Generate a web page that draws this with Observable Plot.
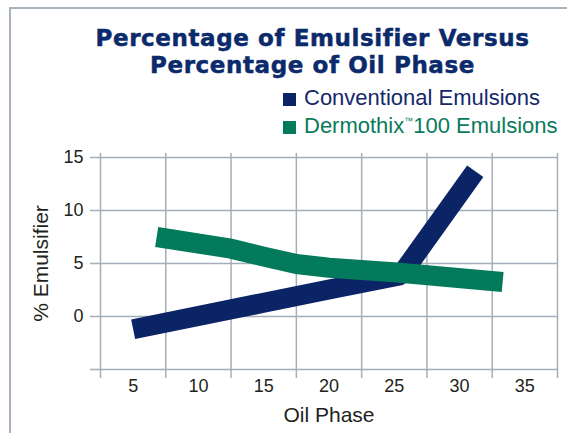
<!DOCTYPE html>
<html>
<head>
<meta charset="utf-8">
<script src="https://cdn.jsdelivr.net/npm/d3@7"></script>
<script src="https://cdn.jsdelivr.net/npm/@observablehq/plot@0.6"></script>
<style>
  html, body { margin: 0; padding: 0; background: #fff; }
  #wrap { position: relative; width: 567px; height: 433px; overflow: hidden; background: #fff; }
  #border { position: absolute; left: 9px; top: 7px; width: 700px; height: 600px;
            border-left: 2px solid #a9b3bd; border-top: 2px solid #a9b3bd; }
  .title { position: absolute; left: 0; width: 625px; text-align: center; white-space: nowrap;
           font-family: "DejaVu Sans", sans-serif; font-weight: bold; font-size: 23px;
           letter-spacing: 0.6px; line-height: 27px; color: #0b2a6b;
           -webkit-text-stroke: 0.5px #0b2a6b; }
  .leg { position: absolute; left: 283px; font-family: "Liberation Sans", Arial, sans-serif;
         font-size: 22px; line-height: 28px; white-space: nowrap; }
  .sw { position: absolute; left: 283px; width: 13px; height: 13px; }
  .leg span.t { position: absolute; left: 21px; top: 0; }
  sup { font-size: 9px; vertical-align: 0; position: relative; top: -9px; }
  #chart { position: absolute; left: 0; top: 140px; }
</style>
</head>
<body>
<div id="wrap">
  <div id="border"></div>
  <div class="title" id="t1"></div>
  <div class="title" id="t2"></div>
  <div class="sw" id="sw1"></div>
  <div class="sw" id="sw2"></div>
  <div class="leg" id="leg1"></div>
  <div class="leg" id="leg2"></div>
  <div id="chart"></div>
</div>
<script>
// ---- data ----
const titleLines = ["Percentage of Emulsifier Versus", "Percentage of Oil Phase"];
const seriesNames = ["Conventional Emulsions", "Dermothix™100 Emulsions"];
const seriesColors = ["#0b2466", "#047a5c"];
const convX = [5, 15, 20, 25.5, 31.2];
const convY = [-1.2, 1.3, 2.55, 3.9, 13.7];
const dermX = [6.8, 12.5, 15, 17.5, 20, 25.2, 33.3];
const dermY = [7.5, 6.4, 5.65, 4.95, 4.6, 4.15, 3.25];
const xTicks = [5, 10, 15, 20, 25, 30, 35];
const yTicks = [0, 5, 10, 15];
const xGrid = [2.5, 7.5, 12.5, 17.5, 22.5, 27.5, 32.5, 37.5];
const yGrid = [-5, 0, 5, 10, 15];
const xLabel = "Oil Phase";
const yLabel = "% Emulsifier";

const conv = convX.map((x, i) => ({x, y: convY[i]}));
const derm = dermX.map((x, i) => ({x, y: dermY[i]}));

// title
const t1 = document.getElementById("t1");
t1.textContent = titleLines[0]; t1.style.top = "25px";
const t2 = document.getElementById("t2");
t2.textContent = titleLines[1]; t2.style.top = "52px";

// legend
const l1 = document.getElementById("leg1");
l1.style.top = "84px"; l1.style.color = "#14286a";
l1.innerHTML = '<span class="t">' + seriesNames[0] + '</span>';
const l2 = document.getElementById("leg2");
l2.style.top = "112px"; l2.style.color = "#0a7a5c";
const parts = seriesNames[1].split("™");
l2.innerHTML = '<span class="t">' + parts[0] + '<sup>™</sup>' + parts[1] + '</span>';
const s1 = document.getElementById("sw1");
s1.style.top = "93px"; s1.style.background = seriesColors[0];
const s2 = document.getElementById("sw2");
s2.style.top = "121px"; s2.style.background = seriesColors[1];

const grid = "#a4aeb8";
const chart = Plot.plot({
  width: 567,
  height: 293,
  marginTop: 17,
  marginBottom: 64,
  marginLeft: 100,
  marginRight: 10,
  style: {fontFamily: "Liberation Sans, Arial, sans-serif", fontSize: "18px", color: "#231f20", background: "transparent"},
  x: {domain: [2.5, 37.5]},
  y: {domain: [-5, 15]},
  marks: [
    Plot.ruleY(yGrid, {y: d => d, x1: 2.5, x2: 37.5, insetLeft: -10, stroke: grid, strokeWidth: 1.5}),
    Plot.ruleX(xGrid, {x: d => d, y1: 15, y2: -5, insetTop: -4, insetBottom: -9, stroke: grid, strokeWidth: 1.5}),
    Plot.axisY({ticks: yTicks, tickSize: 0, tickPadding: 17, label: null, fontSize: 18}),
    Plot.axisX({ticks: xTicks, tickSize: 0, tickPadding: 10, label: null, fontSize: 18}),
    Plot.text([xLabel], {text: d => d, frameAnchor: "bottom", lineAnchor: "top", dy: 37.5, fontSize: 21, fill: "#231f20"}),
    Plot.text([yLabel], {text: d => d, frameAnchor: "left", rotate: -90, dx: -59, textAnchor: "middle", lineAnchor: "middle", fontSize: 21, fill: "#231f20"}),
    Plot.line(conv, {x: "x", y: "y", stroke: seriesColors[0], strokeWidth: 20, strokeLinecap: "butt", strokeLinejoin: "miter"}),
    Plot.line(derm, {x: "x", y: "y", stroke: seriesColors[1], strokeWidth: 20, strokeLinecap: "butt", strokeLinejoin: "round"})
  ]
});
document.getElementById("chart").appendChild(chart);
</script>
</body>
</html>
